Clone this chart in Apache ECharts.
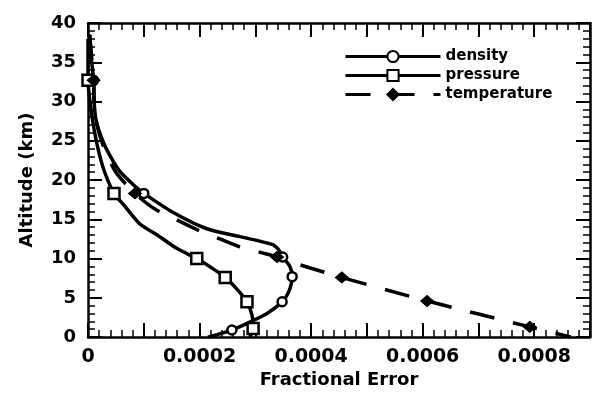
<!DOCTYPE html>
<html>
<head>
<meta charset="utf-8">
<script src="https://cdn.jsdelivr.net/npm/echarts@6/dist/echarts.min.js"></script>
<style>
  html, body { margin: 0; padding: 0; background: #fff; }
  #chart { width: 595px; height: 394px; }
</style>
</head>
<body>
<div id="chart"></div>
<script>
// curve points [fractional error, altitude km]
var density = [
    [0.000003, 38.5], [0.000006, 35.5], [0.00001, 32.7], [0.000011, 30.0],
    [0.000014, 27.8], [0.000021, 26.0], [0.000032, 24.1], [0.000056, 21.2],
    [0.000086, 19.1], [0.0001, 18.3], [0.000152, 15.9], [0.000213, 13.8],
    [0.000272, 12.8], [0.000330, 11.8], [0.000342, 11.1], [0.000349, 10.2],
    [0.000362, 9.0], [0.000366, 7.7], [0.000360, 5.8], [0.000348, 4.5],
    [0.000321, 3.0], [0.000290, 1.9], [0.000258, 0.9], [0.000215, 0]
];
var pressure = [
    [0, 38.0], [0, 32.7], [0.0000054, 29.0], [0.000014, 25.3], [0.000027, 21.6],
    [0.0000466, 18.3], [0.0000645, 16.8], [0.000093, 14.4], [0.000124, 13.0],
    [0.000159, 11.3], [0.000195, 10.0], [0.000222, 8.8], [0.000246, 7.6],
    [0.000267, 6.1], [0.000285, 4.5], [0.000294, 2.8], [0.000296, 1.1], [0.00029, 0]
];
var temperature = [
    [0.000003, 38.5], [0.00001, 32.7], [0.000013, 28.0], [0.000028, 24.2],
    [0.00005, 21.0], [0.0000842, 18.3], [0.00012, 16.3], [0.00016, 14.9],
    [0.000195, 13.7], [0.00024, 12.4], [0.000272, 11.5], [0.000314, 10.7],
    [0.000339, 10.2], [0.000357, 9.7], [0.000394, 8.9], [0.000455, 7.6],
    [0.000608, 4.6], [0.000792, 1.3], [0.000866, 0]
];
// altitudes where a marker is drawn
var densityMarks = [32.7, 18.3, 10.2, 7.7, 4.5, 0.9];
var pressureMarks = [32.7, 18.3, 10.0, 7.6, 4.5, 1.1];
var temperatureMarks = [32.7, 18.3, 10.2, 7.6, 4.6, 1.3];

var names = ['density', 'pressure', 'temperature'];

var font = 'DejaVu Sans';

function build(points, marks) {
    return points.map(function (p) {
        if (marks.indexOf(p[1]) >= 0) return { value: p };
        return { value: p, symbol: 'none' };
    });
}

function xLabel(v) {
    var k = Math.round(v * 10000);
    if (k % 2) return '';
    return k === 0 ? '0' : (k / 10000).toFixed(4);
}

var axisBase = {
    axisLine: { show: true, onZero: false, lineStyle: { color: '#000', width: 2.5 } },
    axisTick: { show: true, inside: true, length: 14, lineStyle: { color: '#000', width: 2 } },
    minorTick: { show: true, splitNumber: 5, length: 7, lineStyle: { color: '#000', width: 1.5 } },
    splitLine: { show: false },
    minorSplitLine: { show: false }
};

var option = {
    animation: false,
    backgroundColor: '#fff',
    grid: { left: 88, right: 5, top: 23, bottom: 52 },
    legend: {
        left: 339,
        top: 44,
        orient: 'vertical',
        itemWidth: 95,
        itemHeight: 14,
        itemGap: 4,
        data: names,
        lineStyle: { width: 3 },
        textStyle: { fontFamily: font, fontWeight: 'bold', fontSize: 15, color: '#000' }
    },
    xAxis: [
        Object.assign({}, axisBase, {
            type: 'value', position: 'bottom', min: 0, max: 0.0009, interval: 0.0001,
            name: 'Fractional Error', nameLocation: 'middle', nameGap: 32,
            nameTextStyle: { fontFamily: font, fontWeight: 'bold', fontSize: 18, color: '#000' },
            axisLabel: { formatter: xLabel, margin: 10, fontFamily: font, fontWeight: 'bold', fontSize: 19, color: '#000' }
        }),
        Object.assign({}, axisBase, {
            type: 'value', position: 'top', min: 0, max: 0.0009, interval: 0.0001,
            axisLabel: { show: false }
        })
    ],
    yAxis: [
        Object.assign({}, axisBase, {
            type: 'value', position: 'left', min: 0, max: 40, interval: 5,
            name: 'Altitude (km)', nameLocation: 'middle', nameGap: 52,
            nameTextStyle: { fontFamily: font, fontWeight: 'bold', fontSize: 18, color: '#000' },
            axisLabel: { margin: 12, fontFamily: font, fontWeight: 'bold', fontSize: 18, color: '#000' }
        }),
        Object.assign({}, axisBase, {
            type: 'value', position: 'right', min: 0, max: 40, interval: 5,
            axisLabel: { show: false }
        })
    ],
    series: [
        {
            name: 'density',
            type: 'line',
            smooth: 0.25,
            showAllSymbol: true,
            symbol: 'circle',
            symbolSize: 9,
            lineStyle: { color: '#000', width: 3.5 },
            itemStyle: { color: '#fff', borderColor: '#000', borderWidth: 2.5 },
            data: build(density, densityMarks)
        },
        {
            name: 'pressure',
            type: 'line',
            smooth: 0.25,
            showAllSymbol: true,
            symbol: 'rect',
            symbolSize: 11,
            lineStyle: { color: '#000', width: 3.5 },
            itemStyle: { color: '#fff', borderColor: '#000', borderWidth: 2.5 },
            data: build(pressure, pressureMarks)
        },
        {
            name: 'temperature',
            type: 'line',
            smooth: 0.25,
            showAllSymbol: true,
            symbol: 'diamond',
            symbolSize: [13, 11],
            lineStyle: { color: '#000', width: 3.5, type: [25, 19] },
            itemStyle: { color: '#000', borderColor: '#000', borderWidth: 1 },
            data: build(temperature, temperatureMarks)
        }
    ]
};

var chart = echarts.init(document.getElementById('chart'), null, { renderer: 'canvas' });
chart.setOption(option);
</script>
</body>
</html>
